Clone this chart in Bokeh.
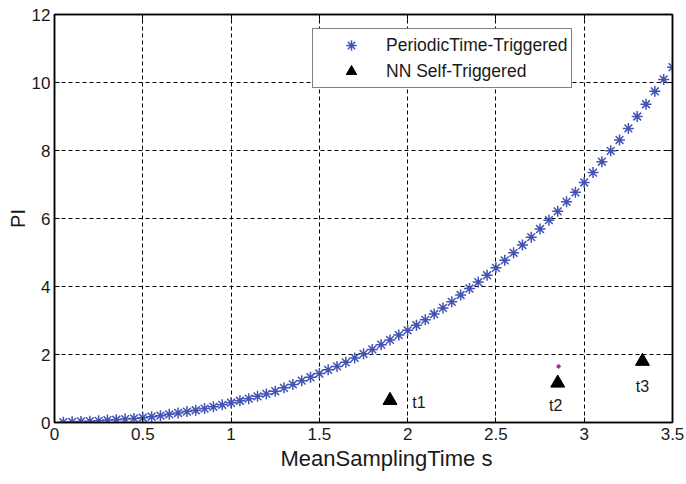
from bokeh.plotting import figure
from bokeh.models import FixedTicker, LinearAxis, Legend, LegendItem, Range1d, Title
from bokeh.core.properties import value
from bokeh.embed import file_html
from bokeh.resources import INLINE

# ---- data ----
sampling_time = [0.05, 0.10, 0.15, 0.20, 0.25, 0.30, 0.35, 0.40, 0.45, 0.50,
                 0.55, 0.60, 0.65, 0.70, 0.75, 0.80, 0.85, 0.90, 0.95, 1.00,
                 1.05, 1.10, 1.15, 1.20, 1.25, 1.30, 1.35, 1.40, 1.45, 1.50,
                 1.55, 1.60, 1.65, 1.70, 1.75, 1.80, 1.85, 1.90, 1.95, 2.00,
                 2.05, 2.10, 2.15, 2.20, 2.25, 2.30, 2.35, 2.40, 2.45, 2.50,
                 2.55, 2.60, 2.65, 2.70, 2.75, 2.80, 2.85, 2.90, 2.95, 3.00,
                 3.05, 3.10, 3.15, 3.20, 3.25, 3.30, 3.35, 3.40, 3.45, 3.50]
periodic_pi = [0.01, 0.02, 0.03, 0.04, 0.05, 0.07, 0.08, 0.10, 0.12, 0.14,
               0.17, 0.20, 0.24, 0.28, 0.32, 0.36, 0.41, 0.46, 0.52, 0.58,
               0.64, 0.70, 0.77, 0.84, 0.92, 1.02, 1.12, 1.23, 1.33, 1.44,
               1.55, 1.65, 1.77, 1.90, 2.02, 2.15, 2.29, 2.43, 2.57, 2.71,
               2.86, 3.02, 3.19, 3.37, 3.55, 3.75, 3.94, 4.13, 4.33, 4.55,
               4.77, 4.99, 5.22, 5.45, 5.69, 5.95, 6.21, 6.49, 6.77, 7.06,
               7.35, 7.67, 7.99, 8.31, 8.65, 9.00, 9.36, 9.74, 10.09, 10.45]

nn_time = [1.90, 2.85, 3.33]
nn_pi = [0.65, 1.16, 1.80]
nn_labels = ["t1", "t2", "t3"]

dot_time = [2.855]
dot_pi = [1.65]

x_ticks = [0, 0.5, 1, 1.5, 2, 2.5, 3, 3.5]
x_tick_labels = ["0", "0.5", "1", "1.5", "2", "2.5", "3", "3.5"]
y_ticks = [0, 2, 4, 6, 8, 10, 12]
y_tick_labels = ["0", "2", "4", "6", "8", "10", "12"]
x_title = "MeanSamplingTime s"
y_title = "PI"

# label offsets (pixels) for t1..t3
label_dx = [29, -2, 0]
label_dy = [2, 22, 25]

FONT = "Liberation Sans"
STAR = "#4353b3"

p = figure(width=686, height=484, x_range=Range1d(0, 3.5), y_range=Range1d(0, 12),
           output_backend="svg", toolbar_location=None,
           min_border_left=54, min_border_right=14, min_border_top=14, min_border_bottom=62,
           y_axis_label=y_title)

p.background_fill_color = "white"
p.border_fill_color = "white"
p.outline_line_color = "black"
p.outline_line_width = 1.5

# axes
p.xaxis.ticker = FixedTicker(ticks=x_ticks)
p.xaxis.major_label_overrides = {t: l for t, l in zip(x_ticks, x_tick_labels)}
p.yaxis.ticker = FixedTicker(ticks=y_ticks)
p.yaxis.major_label_overrides = {t: l for t, l in zip(y_ticks, y_tick_labels)}

for ax in (p.xaxis[0], p.yaxis[0]):
    ax.major_label_text_font = FONT
    ax.major_label_text_font_size = "17px"
    ax.major_label_text_color = "#1a1a1a"
    ax.axis_label_text_font = FONT
    ax.axis_label_text_font_style = "normal"
    ax.axis_label_text_color = "#1a1a1a"
    ax.major_tick_in = 5
    ax.major_tick_out = 0
    ax.minor_tick_line_color = None
    ax.axis_line_width = 1.5
    ax.axis_line_color = "black"
    ax.major_tick_line_color = "black"
    ax.major_label_standoff = 5

p.yaxis.axis_label_text_font_size = "20px"
p.yaxis.axis_label_standoff = 0
p.yaxis.major_label_standoff = 4

for ticks, side in ((y_ticks, "right"), (x_ticks, "above")):
    ax = LinearAxis(ticker=FixedTicker(ticks=ticks),
                    major_label_overrides={t: "" for t in ticks},
                    major_label_text_font_size="1px",
                    major_tick_in=5, major_tick_out=0, minor_tick_line_color=None,
                    major_label_standoff=0, axis_line_width=1.5, axis_line_color="black")
    p.add_layout(ax, side)

# x-axis title (placed as in the reference, slightly right of centre)
p.add_layout(Title(text=x_title, align="left", offset=226, standoff=3,
                   text_font=FONT, text_font_size="22px", text_font_style="normal",
                   text_color="#1a1a1a"), "below")

# grid
p.xgrid.ticker = FixedTicker(ticks=x_ticks)
p.ygrid.ticker = FixedTicker(ticks=y_ticks)
for g in (p.xgrid[0], p.ygrid[0]):
    g.grid_line_color = "black"
    g.grid_line_dash = "4 3"
    g.grid_line_width = 1

# glyphs
r_star = p.scatter(sampling_time, periodic_pi, marker="asterisk", size=11,
                   line_color=STAR, line_width=1.5)
r_tri = p.scatter(nn_time, nn_pi, marker="triangle", size=14,
                  fill_color="black", line_color="black")
p.scatter(dot_time, dot_pi, marker="circle", size=3.5, fill_color="#a8329a",
          line_color="#a8329a")
p.text(x=nn_time, y=nn_pi, text=nn_labels, x_offset=label_dx, y_offset=label_dy,
       text_align="center", text_baseline="middle", text_font=value(FONT),
       text_font_size="16px", text_color="#1a1a1a")

legend = Legend(items=[LegendItem(label="PeriodicTime-Triggered", renderers=[r_star]),
                       LegendItem(label="NN Self-Triggered", renderers=[r_tri])],
                location=(258, 334), glyph_width=70, glyph_height=26, label_standoff=0,
                padding=3, spacing=0, margin=0,
                label_text_font=FONT, label_text_font_size="17.5px", label_text_color="#1a1a1a",
                border_line_color="black", border_line_width=1.5,
                background_fill_color="white", background_fill_alpha=1)
p.add_layout(legend)

open("out.html", "w").write(file_html(p, INLINE))
